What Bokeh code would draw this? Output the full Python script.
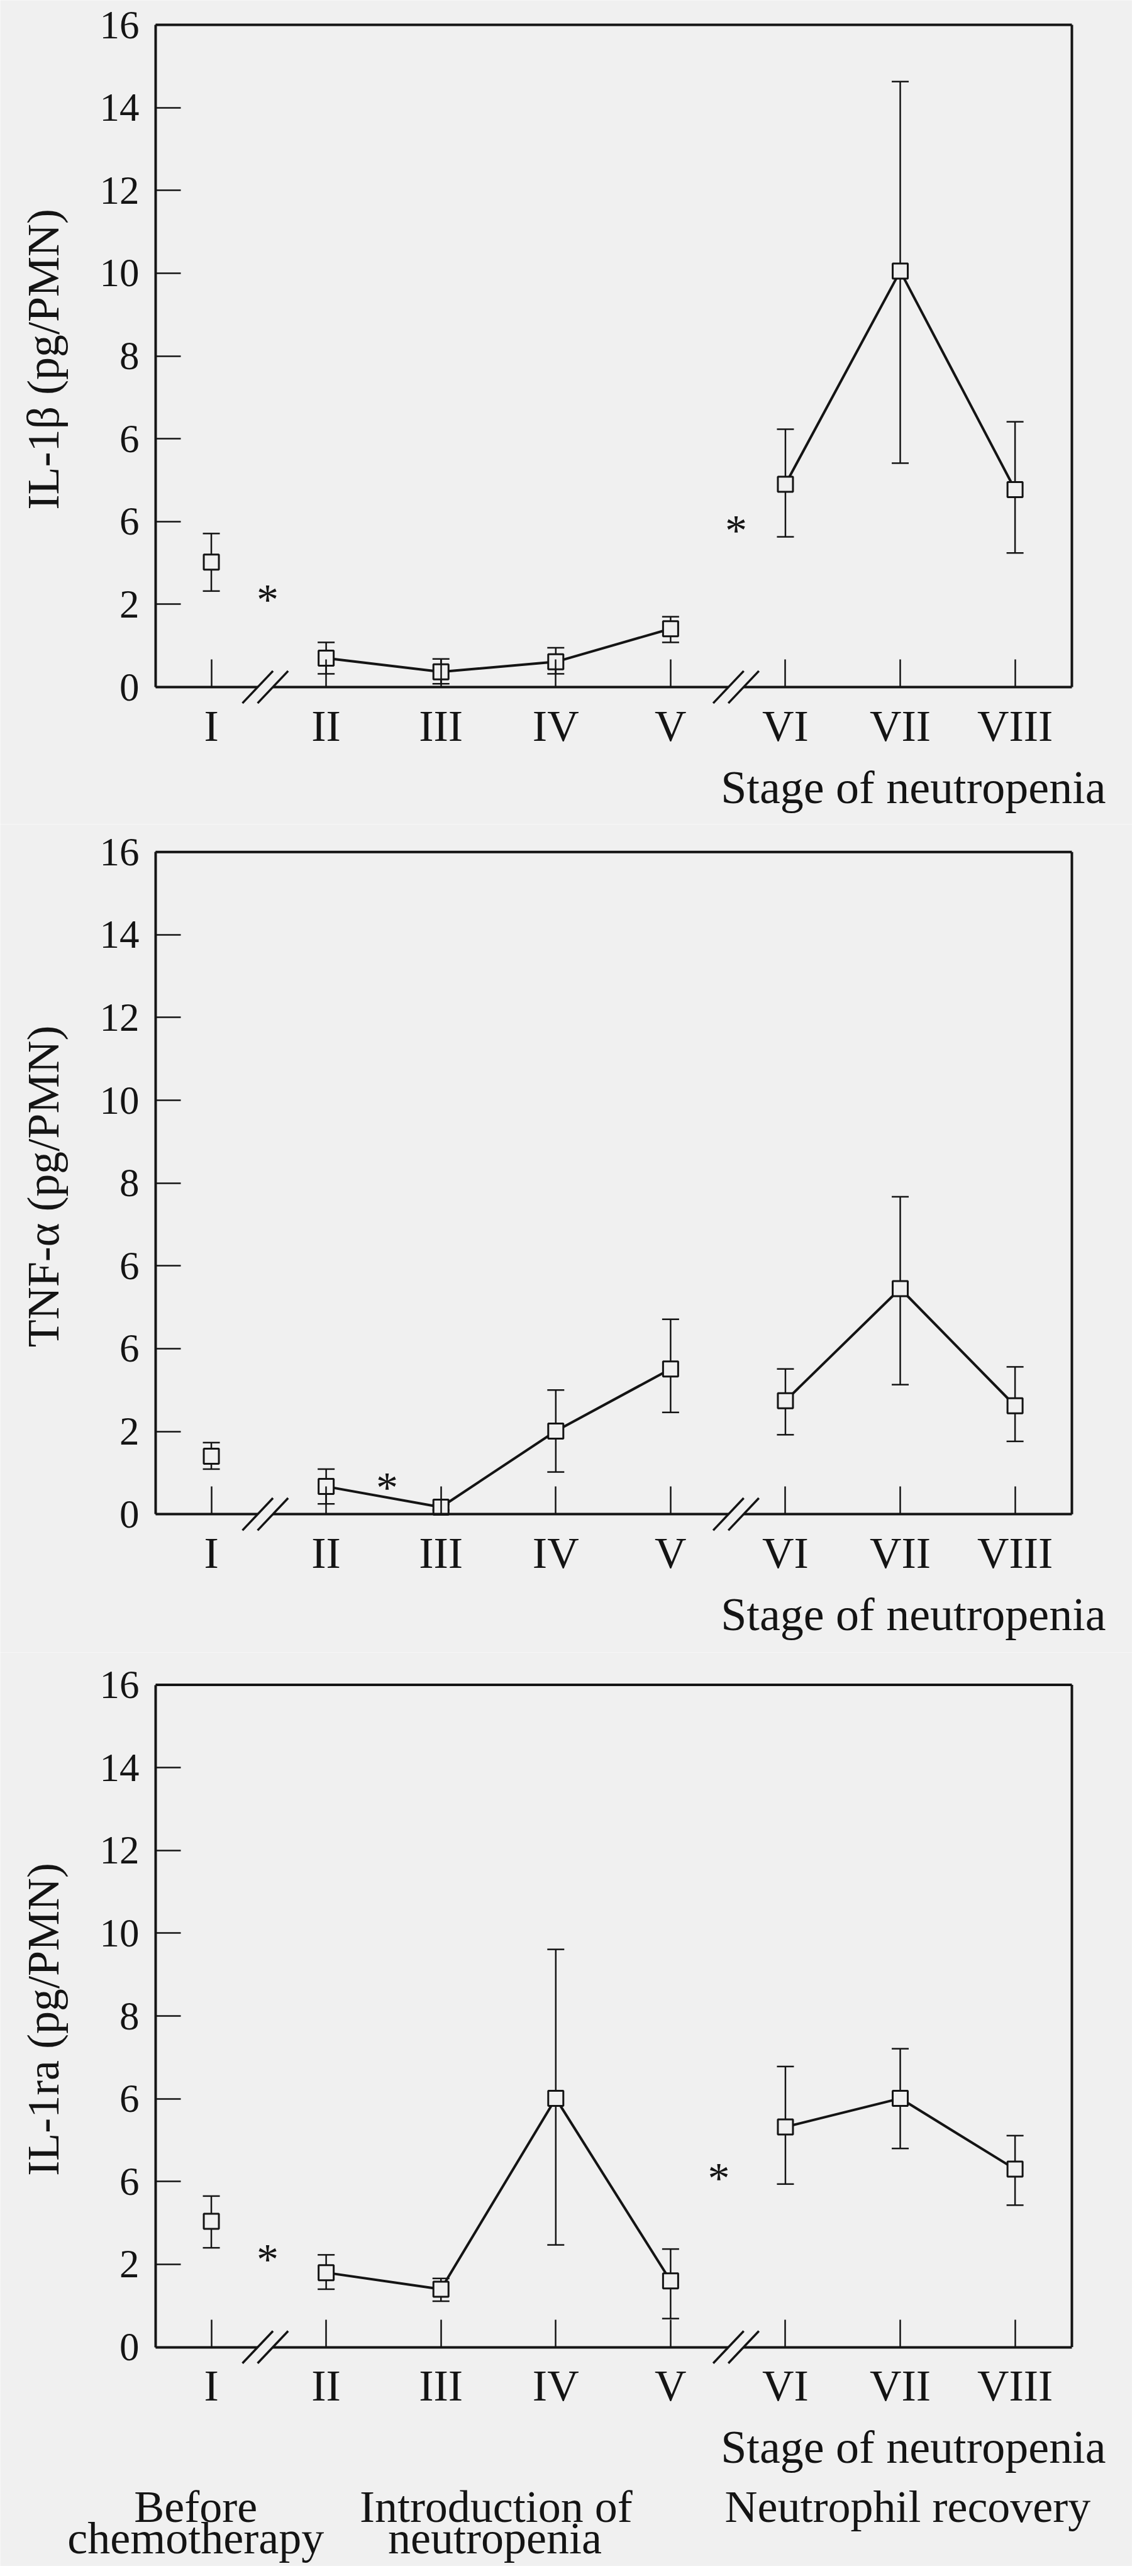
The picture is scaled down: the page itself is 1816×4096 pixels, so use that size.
import math
from bokeh.plotting import figure
from bokeh.models import (ColumnDataSource, Whisker, TeeHead, FixedTicker,
                          LinearAxis, Range1d)
from bokeh.core.properties import value
from bokeh.layouts import column
from bokeh.embed import file_html
from bokeh.resources import INLINE

# ---------------- data ----------------
stages = ["I", "II", "III", "IV", "V", "VI", "VII", "VIII"]
stage_pos = [1, 2, 3, 4, 5, 6, 7, 8]

il1b_mean = [3.02, 0.70, 0.37, 0.61, 1.41, 4.90, 10.05, 4.77]
il1b_lower = [2.32, 0.32, 0.08, 0.32, 1.08, 3.63, 5.41, 3.24]
il1b_upper = [3.71, 1.08, 0.68, 0.95, 1.70, 6.23, 14.63, 6.41]
il1b_star_x = [1.49, 5.57]
il1b_star_y = [2.35, 4.03]

tnf_mean = [1.40, 0.67, 0.17, 2.01, 3.51, 2.74, 5.45, 2.62]
tnf_lower = [1.09, 0.25, 0.10, 1.02, 2.46, 1.92, 3.13, 1.76]
tnf_upper = [1.73, 1.09, 0.24, 3.00, 4.71, 3.51, 7.67, 3.56]
tnf_star_x = [2.53]
tnf_star_y = [0.89]

il1ra_mean = [3.04, 1.80, 1.40, 6.01, 1.60, 5.32, 6.01, 4.30]
il1ra_lower = [2.40, 1.40, 1.11, 2.47, 0.69, 3.94, 4.80, 3.43]
il1ra_upper = [3.65, 2.23, 1.66, 9.61, 2.37, 6.78, 7.21, 5.11]
il1ra_star_x = [1.49, 5.42]
il1ra_star_y = [2.37, 4.32]

y_ticks = [0, 2, 4, 6, 8, 10, 12, 14, 16]
y_tick_labels = ["0", "2", "6", "6", "8", "10", "12", "14", "16"]
break_x = [1.47, 5.57]
connected_groups = [[1, 2, 3, 4], [5, 6, 7]]   # indices joined by lines

x_title = "Stage of neutropenia"
group_line1 = ["Before", "Introduction of", "Neutrophil recovery"]
group_line1_x = [0.864, 3.48, 7.065]
group_line2 = ["chemotherapy", "neutropenia"]
group_line2_x = [0.864, 3.47]

# ---------------- style / geometry ----------------
BG = "#f0f0f0"
INK = "#141414"
SERIF = "Liberation Serif"
FIG_W = 1800
AXIS_PX = 247                       # canvas x of the y axis
X_LEFT, X_RIGHT = 0.515, 8.495      # plot box, x units
Y_TOP = 16
PX_X = 1457 / (X_RIGHT - X_LEFT)
PX_Y = 1053 / 16


def panel(ylabel, mean, lower, upper, star_x, star_y, h, top):
    xs0 = X_LEFT - AXIS_PX / PX_X
    xe0 = xs0 + FIG_W / PX_X
    ye0 = Y_TOP + top / PX_Y
    ys0 = ye0 - h / PX_Y
    p = figure(width=FIG_W, height=h, min_border=0, title=None,
               x_axis_type=None, y_axis_type=None,
               x_range=Range1d(xs0, xe0), y_range=Range1d(ys0, ye0),
               output_backend="svg", toolbar_location=None,
               background_fill_color=BG, border_fill_color=BG,
               outline_line_color=None)
    p.grid.visible = False

    # x axis fixed at y = 0
    xa = LinearAxis(fixed_location=0, bounds=(X_LEFT, X_RIGHT),
                    ticker=FixedTicker(ticks=stage_pos))
    xa.major_label_overrides = {k: s for k, s in zip(stage_pos, stages)}
    xa.major_tick_in = 44
    xa.major_tick_out = 0
    xa.major_tick_line_width = 2.5
    xa.major_tick_line_color = INK
    xa.minor_tick_line_color = None
    xa.axis_line_color = INK
    xa.axis_line_width = 4
    xa.major_label_text_font = SERIF
    xa.major_label_text_font_size = "70px"
    xa.major_label_text_color = INK
    xa.major_label_standoff = 23
    p.add_layout(xa, "below")

    # y axis fixed at the left of the box
    ya = LinearAxis(fixed_location=X_LEFT, bounds=(0, Y_TOP),
                    ticker=FixedTicker(ticks=y_ticks))
    ya.major_label_overrides = {k: s for k, s in zip(y_ticks, y_tick_labels)}
    ya.major_tick_in = 40
    ya.major_tick_out = 0
    ya.major_tick_line_width = 2.5
    ya.major_tick_line_color = INK
    ya.minor_tick_line_color = None
    ya.axis_line_color = INK
    ya.axis_line_width = 4
    ya.major_label_text_font = SERIF
    ya.major_label_text_font_size = "63px"
    ya.major_label_text_color = INK
    ya.major_label_standoff = 26
    p.add_layout(ya, "left")

    # top and right sides of the box
    p.segment(x0=[X_LEFT, X_RIGHT], y0=[Y_TOP, 0], x1=[X_RIGHT, X_RIGHT],
              y1=[Y_TOP, Y_TOP], line_color=INK, line_width=4)

    src = ColumnDataSource(dict(x=stage_pos, mean=mean, lower=lower, upper=upper))

    # error bars
    w = Whisker(base="x", lower="lower", upper="upper", source=src,
                line_color=INK, line_width=2.5, level="underlay",
                upper_head=TeeHead(size=27, line_color=INK, line_width=2.5),
                lower_head=TeeHead(size=27, line_color=INK, line_width=2.5))
    p.add_layout(w)

    # connecting lines
    xs = [[stage_pos[i] for i in g] for g in connected_groups]
    ys = [[mean[i] for i in g] for g in connected_groups]
    p.multi_line(xs=xs, ys=ys, line_color=INK, line_width=4)

    # hollow squares
    p.scatter("x", "mean", source=src, marker="square", size=24,
              fill_color=BG, line_color=INK, line_width=3)

    # asterisks
    p.text(x=star_x, y=star_y, text=["*"] * len(star_x),
           text_font=value(SERIF), text_font_size="70px", text_color=INK,
           text_align="center", text_baseline="alphabetic", y_offset=16)

    # axis breaks "//"
    dx, dy, sep, h2 = 0.133, 0.39, 0.066, 0.08
    k = dx / dy
    gap_xs, gap_ys, sx0, sy0, sx1, sy1 = [], [], [], [], [], []
    for c in break_x:
        x1, x2 = c - sep, c + sep
        gap_xs.append([x1 - k * h2, x2 - k * h2, x2 + k * h2, x1 + k * h2])
        gap_ys.append([-h2, -h2, h2, h2])
        for xc in (x1, x2):
            sx0.append(xc - dx); sy0.append(-dy)
            sx1.append(xc + dx); sy1.append(dy)
    p.patches(xs=gap_xs, ys=gap_ys, fill_color=BG, line_color=None, level="overlay")
    p.segment(x0=sx0, y0=sy0, x1=sx1, y1=sy1, line_color=INK, line_width=3.5,
              level="overlay")

    # y axis title (rotated)
    p.text(x=[xs0 + 68 / PX_X], y=[7.92], text=[ylabel], angle=math.pi / 2,
           text_font=value(SERIF), text_font_size="72px", text_color=INK,
           text_align="center", text_baseline="middle")

    # x axis title
    p.text(x=[8.791], y=[-2.42], text=[x_title], text_font=value(SERIF),
           text_font_size="74px", text_color=INK, text_align="right",
           text_baseline="alphabetic")
    return p


p1 = panel("IL-1β (pg/PMN)", il1b_mean, il1b_lower, il1b_upper,
           il1b_star_x, il1b_star_y, 1310, 39)
p2 = panel("TNF-α (pg/PMN)", tnf_mean, tnf_lower, tnf_upper,
           tnf_star_x, tnf_star_y, 1317, 44.2)
p3 = panel("IL-1ra (pg/PMN)", il1ra_mean, il1ra_lower, il1ra_upper,
           il1ra_star_x, il1ra_star_y, 1453, 51.6)

p3.text(x=group_line1_x, y=[-3.86] * len(group_line1), text=group_line1,
        text_font=value(SERIF), text_font_size="72px", text_color=INK,
        text_align="center", text_baseline="alphabetic")
p3.text(x=group_line2_x, y=[-4.62] * len(group_line2), text=group_line2,
        text_font=value(SERIF), text_font_size="72px", text_color=INK,
        text_align="center", text_baseline="alphabetic")

layout = column(p1, p2, p3, spacing=0)
open("out.html", "w").write(file_html(layout, INLINE))
